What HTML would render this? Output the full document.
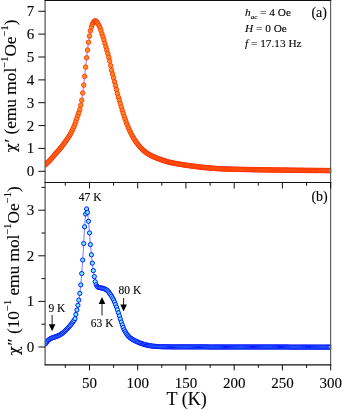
<!DOCTYPE html><html><head><meta charset="utf-8"><title>chi</title><style>html,body{margin:0;padding:0;background:#fff}body{width:342px;height:410px;overflow:hidden;position:relative}</style></head><body><svg width="342" height="410" viewBox="0 0 342 410" style="display:block;position:absolute;left:0;top:0"><rect width="342" height="410" fill="#fff"/><defs><clipPath id="ca"><rect x="45.1" y="0" width="286.1" height="182.5"/></clipPath><clipPath id="cb"><rect x="45.1" y="182.5" width="286.1" height="182.39999999999998"/></clipPath></defs><g clip-path="url(#ca)"><polyline points="45.3,164.8 46.0,164.1 47.0,163.1 48.0,162.2 48.9,161.2 49.9,160.2 50.9,159.2 51.8,158.1 52.8,157.0 53.7,155.9 54.7,154.8 55.7,153.6 56.6,152.5 57.6,151.5 58.6,150.4 59.5,149.3 60.5,148.1 61.5,146.9 62.4,145.7 63.4,144.4 64.4,143.1 65.3,141.8 66.3,140.4 67.3,139.0 68.2,137.6 69.2,136.1 70.2,134.5 71.1,132.7 72.1,130.8 73.0,128.7 74.0,126.4 75.0,123.9 75.9,121.3 76.9,118.3 77.9,115.3 78.8,112.6 79.8,109.5 80.8,105.2 81.7,100.3 82.7,93.0 83.7,85.1 84.6,76.4 85.6,67.1 86.6,57.8 87.5,50.0 88.5,42.3 89.5,36.1 90.4,30.9 91.4,27.1 92.3,24.4 93.3,22.6 94.3,21.3 95.2,20.8 96.2,21.3 97.2,22.4 98.1,23.9 99.1,25.8 100.1,27.9 101.0,30.6 102.0,33.9 103.0,36.8 103.9,39.8 104.9,43.3 105.9,46.8 106.8,50.1 107.8,53.6 108.8,57.2 109.7,61.1 110.7,65.7 111.6,70.3 112.6,74.2 113.6,77.9 114.5,81.8 115.5,85.6 116.5,89.5 117.4,93.5 118.4,97.2 119.4,100.4 120.3,103.6 121.3,107.0 122.3,110.4 123.2,113.5 124.2,116.5 125.2,119.3 126.1,122.0 127.1,124.5 128.1,126.9 129.0,129.2 130.0,131.3 130.9,133.3 131.9,135.2 132.9,136.9 133.8,138.6 134.8,140.1 135.8,141.6 136.7,142.9 137.7,144.2 138.7,145.4 139.6,146.5 140.6,147.6 141.6,148.6 142.5,149.6 143.5,150.5 144.5,151.3 145.4,152.0 146.4,152.7 147.3,153.4 148.3,154.0 149.3,154.6 150.2,155.1 151.2,155.7 152.2,156.1 153.1,156.6 154.1,157.0 155.1,157.4 156.0,157.8 157.0,158.2 158.0,158.6 158.9,158.9 159.9,159.2 160.9,159.6 161.8,159.9 162.8,160.3 163.8,160.6 164.7,160.9 165.7,161.2 166.7,161.5 167.6,161.8 168.6,162.0 169.5,162.3 170.5,162.5 171.5,162.7 172.4,162.9 173.4,163.1 174.4,163.3 175.3,163.5 176.3,163.6 177.3,163.8 178.2,164.0 179.2,164.1 180.2,164.3 181.1,164.4 182.1,164.6 183.1,164.8 184.0,164.9 185.0,165.1 185.9,165.2 186.9,165.3 187.9,165.5 188.8,165.6 189.8,165.8 190.8,165.9 191.7,166.0 192.7,166.1 193.7,166.3 194.6,166.4 195.6,166.5 196.6,166.6 197.5,166.7 198.5,166.9 199.5,167.0 200.4,167.1 201.4,167.2 202.4,167.3 203.3,167.4 204.3,167.5 205.2,167.6 206.2,167.7 207.2,167.8 208.1,167.8 209.1,167.9 210.1,168.0 211.0,168.1 212.0,168.2 213.0,168.3 213.9,168.3 214.9,168.4 215.9,168.5 216.8,168.6 217.8,168.6 218.8,168.7 219.7,168.7 220.7,168.8 221.7,168.8 222.6,168.8 223.6,168.9 224.6,168.9 225.5,169.0 226.5,169.0 227.4,169.0 228.4,169.1 229.4,169.1 230.3,169.1 231.3,169.1 232.3,169.2 233.2,169.2 234.2,169.2 235.2,169.3 236.1,169.3 237.1,169.3 238.1,169.3 239.0,169.4 240.0,169.4 241.0,169.4 241.9,169.4 242.9,169.5 243.9,169.5 244.8,169.5 245.8,169.5 246.7,169.5 247.7,169.6 248.7,169.6 249.6,169.6 250.6,169.6 251.6,169.6 252.5,169.6 253.5,169.7 254.5,169.7 255.4,169.7 256.4,169.7 257.4,169.7 258.3,169.8 259.3,169.8 260.3,169.8 261.2,169.8 262.2,169.8 263.1,169.8 264.1,169.8 265.1,169.9 266.0,169.9 267.0,169.9 268.0,169.9 268.9,169.9 269.9,169.9 270.9,169.9 271.8,170.0 272.8,170.0 273.8,170.0 274.7,170.0 275.7,170.0 276.7,170.0 277.6,170.0 278.6,170.0 279.6,170.1 280.5,170.1 281.5,170.1 282.4,170.1 283.4,170.1 284.4,170.1 285.3,170.1 286.3,170.1 287.3,170.2 288.2,170.2 289.2,170.2 290.2,170.2 291.1,170.2 292.1,170.2 293.1,170.2 294.0,170.2 295.0,170.2 296.0,170.3 296.9,170.3 297.9,170.3 298.9,170.3 299.8,170.3 300.8,170.3 301.8,170.3 302.7,170.3 303.7,170.3 304.6,170.4 305.6,170.4 306.6,170.4 307.5,170.4 308.5,170.4 309.5,170.4 310.4,170.4 311.4,170.4 312.4,170.4 313.3,170.4 314.3,170.5 315.3,170.5 316.2,170.5 317.2,170.5 318.2,170.5 319.1,170.5 320.1,170.5 321.0,170.5 322.0,170.5 323.0,170.5 323.9,170.5 324.9,170.5 325.9,170.6 326.8,170.6 327.8,170.6 328.8,170.6 329.7,170.6 330.7,170.6" fill="none" stroke="#7a30ff" stroke-width="0.7"/><g fill="#ff9020" stroke="#ff2200" stroke-width="0.75"><circle cx="45.3" cy="164.8" r="2.28"/><circle cx="46.0" cy="164.1" r="2.28"/><circle cx="47.0" cy="163.1" r="2.28"/><circle cx="48.0" cy="162.2" r="2.28"/><circle cx="48.9" cy="161.2" r="2.28"/><circle cx="49.9" cy="160.2" r="2.28"/><circle cx="50.9" cy="159.2" r="2.28"/><circle cx="51.8" cy="158.1" r="2.28"/><circle cx="52.8" cy="157.0" r="2.28"/><circle cx="53.7" cy="155.9" r="2.28"/><circle cx="54.7" cy="154.8" r="2.28"/><circle cx="55.7" cy="153.6" r="2.28"/><circle cx="56.6" cy="152.5" r="2.28"/><circle cx="57.6" cy="151.5" r="2.28"/><circle cx="58.6" cy="150.4" r="2.28"/><circle cx="59.5" cy="149.3" r="2.28"/><circle cx="60.5" cy="148.1" r="2.28"/><circle cx="61.5" cy="146.9" r="2.28"/><circle cx="62.4" cy="145.7" r="2.28"/><circle cx="63.4" cy="144.4" r="2.28"/><circle cx="64.4" cy="143.1" r="2.28"/><circle cx="65.3" cy="141.8" r="2.28"/><circle cx="66.3" cy="140.4" r="2.28"/><circle cx="67.3" cy="139.0" r="2.28"/><circle cx="68.2" cy="137.6" r="2.28"/><circle cx="69.2" cy="136.1" r="2.28"/><circle cx="70.2" cy="134.5" r="2.28"/><circle cx="71.1" cy="132.7" r="2.28"/><circle cx="72.1" cy="130.8" r="2.28"/><circle cx="73.0" cy="128.7" r="2.28"/><circle cx="74.0" cy="126.4" r="2.28"/><circle cx="75.0" cy="123.9" r="2.28"/><circle cx="75.9" cy="121.3" r="2.28"/><circle cx="76.9" cy="118.3" r="2.28"/><circle cx="77.9" cy="115.3" r="2.28"/><circle cx="78.8" cy="112.6" r="2.28"/><circle cx="79.8" cy="109.5" r="2.28"/><circle cx="80.8" cy="105.2" r="2.28"/><circle cx="81.7" cy="100.3" r="2.28"/><circle cx="82.7" cy="93.0" r="2.28"/><circle cx="83.7" cy="85.1" r="2.28"/><circle cx="84.6" cy="76.4" r="2.28"/><circle cx="85.6" cy="67.1" r="2.28"/><circle cx="86.6" cy="57.8" r="2.28"/><circle cx="87.5" cy="50.0" r="2.28"/><circle cx="88.5" cy="42.3" r="2.28"/><circle cx="89.5" cy="36.1" r="2.28"/><circle cx="90.4" cy="30.9" r="2.28"/><circle cx="91.4" cy="27.1" r="2.28"/><circle cx="92.3" cy="24.4" r="2.28"/><circle cx="93.3" cy="22.6" r="2.28"/><circle cx="94.3" cy="21.3" r="2.28"/><circle cx="95.2" cy="20.8" r="2.28"/><circle cx="96.2" cy="21.3" r="2.28"/><circle cx="97.2" cy="22.4" r="2.28"/><circle cx="98.1" cy="23.9" r="2.28"/><circle cx="99.1" cy="25.8" r="2.28"/><circle cx="100.1" cy="27.9" r="2.28"/><circle cx="101.0" cy="30.6" r="2.28"/><circle cx="102.0" cy="33.9" r="2.28"/><circle cx="103.0" cy="36.8" r="2.28"/><circle cx="103.9" cy="39.8" r="2.28"/><circle cx="104.9" cy="43.3" r="2.28"/><circle cx="105.9" cy="46.8" r="2.28"/><circle cx="106.8" cy="50.1" r="2.28"/><circle cx="107.8" cy="53.6" r="2.28"/><circle cx="108.8" cy="57.2" r="2.28"/><circle cx="109.7" cy="61.1" r="2.28"/><circle cx="110.7" cy="65.7" r="2.28"/><circle cx="111.6" cy="70.3" r="2.28"/><circle cx="112.6" cy="74.2" r="2.28"/><circle cx="113.6" cy="77.9" r="2.28"/><circle cx="114.5" cy="81.8" r="2.28"/><circle cx="115.5" cy="85.6" r="2.28"/><circle cx="116.5" cy="89.5" r="2.28"/><circle cx="117.4" cy="93.5" r="2.28"/><circle cx="118.4" cy="97.2" r="2.28"/><circle cx="119.4" cy="100.4" r="2.28"/><circle cx="120.3" cy="103.6" r="2.28"/><circle cx="121.3" cy="107.0" r="2.28"/><circle cx="122.3" cy="110.4" r="2.28"/><circle cx="123.2" cy="113.5" r="2.28"/><circle cx="124.2" cy="116.5" r="2.28"/><circle cx="125.2" cy="119.3" r="2.28"/><circle cx="126.1" cy="122.0" r="2.28"/><circle cx="127.1" cy="124.5" r="2.28"/><circle cx="128.1" cy="126.9" r="2.28"/><circle cx="129.0" cy="129.2" r="2.28"/><circle cx="130.0" cy="131.3" r="2.28"/><circle cx="130.9" cy="133.3" r="2.28"/><circle cx="131.9" cy="135.2" r="2.28"/><circle cx="132.9" cy="136.9" r="2.28"/><circle cx="133.8" cy="138.6" r="2.28"/><circle cx="134.8" cy="140.1" r="2.28"/><circle cx="135.8" cy="141.6" r="2.28"/><circle cx="136.7" cy="142.9" r="2.28"/><circle cx="137.7" cy="144.2" r="2.28"/><circle cx="138.7" cy="145.4" r="2.28"/><circle cx="139.6" cy="146.5" r="2.28"/><circle cx="140.6" cy="147.6" r="2.28"/><circle cx="141.6" cy="148.6" r="2.28"/><circle cx="142.5" cy="149.6" r="2.28"/><circle cx="143.5" cy="150.5" r="2.28"/><circle cx="144.5" cy="151.3" r="2.28"/><circle cx="145.4" cy="152.0" r="2.28"/><circle cx="146.4" cy="152.7" r="2.28"/><circle cx="147.3" cy="153.4" r="2.28"/><circle cx="148.3" cy="154.0" r="2.28"/><circle cx="149.3" cy="154.6" r="2.28"/><circle cx="150.2" cy="155.1" r="2.28"/><circle cx="151.2" cy="155.7" r="2.28"/><circle cx="152.2" cy="156.1" r="2.28"/><circle cx="153.1" cy="156.6" r="2.28"/><circle cx="154.1" cy="157.0" r="2.28"/><circle cx="155.1" cy="157.4" r="2.28"/><circle cx="156.0" cy="157.8" r="2.28"/><circle cx="157.0" cy="158.2" r="2.28"/><circle cx="158.0" cy="158.6" r="2.28"/><circle cx="158.9" cy="158.9" r="2.28"/><circle cx="159.9" cy="159.2" r="2.28"/><circle cx="160.9" cy="159.6" r="2.28"/><circle cx="161.8" cy="159.9" r="2.28"/><circle cx="162.8" cy="160.3" r="2.28"/><circle cx="163.8" cy="160.6" r="2.28"/><circle cx="164.7" cy="160.9" r="2.28"/><circle cx="165.7" cy="161.2" r="2.28"/><circle cx="166.7" cy="161.5" r="2.28"/><circle cx="167.6" cy="161.8" r="2.28"/><circle cx="168.6" cy="162.0" r="2.28"/><circle cx="169.5" cy="162.3" r="2.28"/><circle cx="170.5" cy="162.5" r="2.28"/><circle cx="171.5" cy="162.7" r="2.28"/><circle cx="172.4" cy="162.9" r="2.28"/><circle cx="173.4" cy="163.1" r="2.28"/><circle cx="174.4" cy="163.3" r="2.28"/><circle cx="175.3" cy="163.5" r="2.28"/><circle cx="176.3" cy="163.6" r="2.28"/><circle cx="177.3" cy="163.8" r="2.28"/><circle cx="178.2" cy="164.0" r="2.28"/><circle cx="179.2" cy="164.1" r="2.28"/><circle cx="180.2" cy="164.3" r="2.28"/><circle cx="181.1" cy="164.4" r="2.28"/><circle cx="182.1" cy="164.6" r="2.28"/><circle cx="183.1" cy="164.8" r="2.28"/><circle cx="184.0" cy="164.9" r="2.28"/><circle cx="185.0" cy="165.1" r="2.28"/><circle cx="185.9" cy="165.2" r="2.28"/><circle cx="186.9" cy="165.3" r="2.28"/><circle cx="187.9" cy="165.5" r="2.28"/><circle cx="188.8" cy="165.6" r="2.28"/><circle cx="189.8" cy="165.8" r="2.28"/><circle cx="190.8" cy="165.9" r="2.28"/><circle cx="191.7" cy="166.0" r="2.28"/><circle cx="192.7" cy="166.1" r="2.28"/><circle cx="193.7" cy="166.3" r="2.28"/><circle cx="194.6" cy="166.4" r="2.28"/><circle cx="195.6" cy="166.5" r="2.28"/><circle cx="196.6" cy="166.6" r="2.28"/><circle cx="197.5" cy="166.7" r="2.28"/><circle cx="198.5" cy="166.9" r="2.28"/><circle cx="199.5" cy="167.0" r="2.28"/><circle cx="200.4" cy="167.1" r="2.28"/><circle cx="201.4" cy="167.2" r="2.28"/><circle cx="202.4" cy="167.3" r="2.28"/><circle cx="203.3" cy="167.4" r="2.28"/><circle cx="204.3" cy="167.5" r="2.28"/><circle cx="205.2" cy="167.6" r="2.28"/><circle cx="206.2" cy="167.7" r="2.28"/><circle cx="207.2" cy="167.8" r="2.28"/><circle cx="208.1" cy="167.8" r="2.28"/><circle cx="209.1" cy="167.9" r="2.28"/><circle cx="210.1" cy="168.0" r="2.28"/><circle cx="211.0" cy="168.1" r="2.28"/><circle cx="212.0" cy="168.2" r="2.28"/><circle cx="213.0" cy="168.3" r="2.28"/><circle cx="213.9" cy="168.3" r="2.28"/><circle cx="214.9" cy="168.4" r="2.28"/><circle cx="215.9" cy="168.5" r="2.28"/><circle cx="216.8" cy="168.6" r="2.28"/><circle cx="217.8" cy="168.6" r="2.28"/><circle cx="218.8" cy="168.7" r="2.28"/><circle cx="219.7" cy="168.7" r="2.28"/><circle cx="220.7" cy="168.8" r="2.28"/><circle cx="221.7" cy="168.8" r="2.28"/><circle cx="222.6" cy="168.8" r="2.28"/><circle cx="223.6" cy="168.9" r="2.28"/><circle cx="224.6" cy="168.9" r="2.28"/><circle cx="225.5" cy="169.0" r="2.28"/><circle cx="226.5" cy="169.0" r="2.28"/><circle cx="227.4" cy="169.0" r="2.28"/><circle cx="228.4" cy="169.1" r="2.28"/><circle cx="229.4" cy="169.1" r="2.28"/><circle cx="230.3" cy="169.1" r="2.28"/><circle cx="231.3" cy="169.1" r="2.28"/><circle cx="232.3" cy="169.2" r="2.28"/><circle cx="233.2" cy="169.2" r="2.28"/><circle cx="234.2" cy="169.2" r="2.28"/><circle cx="235.2" cy="169.3" r="2.28"/><circle cx="236.1" cy="169.3" r="2.28"/><circle cx="237.1" cy="169.3" r="2.28"/><circle cx="238.1" cy="169.3" r="2.28"/><circle cx="239.0" cy="169.4" r="2.28"/><circle cx="240.0" cy="169.4" r="2.28"/><circle cx="241.0" cy="169.4" r="2.28"/><circle cx="241.9" cy="169.4" r="2.28"/><circle cx="242.9" cy="169.5" r="2.28"/><circle cx="243.9" cy="169.5" r="2.28"/><circle cx="244.8" cy="169.5" r="2.28"/><circle cx="245.8" cy="169.5" r="2.28"/><circle cx="246.7" cy="169.5" r="2.28"/><circle cx="247.7" cy="169.6" r="2.28"/><circle cx="248.7" cy="169.6" r="2.28"/><circle cx="249.6" cy="169.6" r="2.28"/><circle cx="250.6" cy="169.6" r="2.28"/><circle cx="251.6" cy="169.6" r="2.28"/><circle cx="252.5" cy="169.6" r="2.28"/><circle cx="253.5" cy="169.7" r="2.28"/><circle cx="254.5" cy="169.7" r="2.28"/><circle cx="255.4" cy="169.7" r="2.28"/><circle cx="256.4" cy="169.7" r="2.28"/><circle cx="257.4" cy="169.7" r="2.28"/><circle cx="258.3" cy="169.8" r="2.28"/><circle cx="259.3" cy="169.8" r="2.28"/><circle cx="260.3" cy="169.8" r="2.28"/><circle cx="261.2" cy="169.8" r="2.28"/><circle cx="262.2" cy="169.8" r="2.28"/><circle cx="263.1" cy="169.8" r="2.28"/><circle cx="264.1" cy="169.8" r="2.28"/><circle cx="265.1" cy="169.9" r="2.28"/><circle cx="266.0" cy="169.9" r="2.28"/><circle cx="267.0" cy="169.9" r="2.28"/><circle cx="268.0" cy="169.9" r="2.28"/><circle cx="268.9" cy="169.9" r="2.28"/><circle cx="269.9" cy="169.9" r="2.28"/><circle cx="270.9" cy="169.9" r="2.28"/><circle cx="271.8" cy="170.0" r="2.28"/><circle cx="272.8" cy="170.0" r="2.28"/><circle cx="273.8" cy="170.0" r="2.28"/><circle cx="274.7" cy="170.0" r="2.28"/><circle cx="275.7" cy="170.0" r="2.28"/><circle cx="276.7" cy="170.0" r="2.28"/><circle cx="277.6" cy="170.0" r="2.28"/><circle cx="278.6" cy="170.0" r="2.28"/><circle cx="279.6" cy="170.1" r="2.28"/><circle cx="280.5" cy="170.1" r="2.28"/><circle cx="281.5" cy="170.1" r="2.28"/><circle cx="282.4" cy="170.1" r="2.28"/><circle cx="283.4" cy="170.1" r="2.28"/><circle cx="284.4" cy="170.1" r="2.28"/><circle cx="285.3" cy="170.1" r="2.28"/><circle cx="286.3" cy="170.1" r="2.28"/><circle cx="287.3" cy="170.2" r="2.28"/><circle cx="288.2" cy="170.2" r="2.28"/><circle cx="289.2" cy="170.2" r="2.28"/><circle cx="290.2" cy="170.2" r="2.28"/><circle cx="291.1" cy="170.2" r="2.28"/><circle cx="292.1" cy="170.2" r="2.28"/><circle cx="293.1" cy="170.2" r="2.28"/><circle cx="294.0" cy="170.2" r="2.28"/><circle cx="295.0" cy="170.2" r="2.28"/><circle cx="296.0" cy="170.3" r="2.28"/><circle cx="296.9" cy="170.3" r="2.28"/><circle cx="297.9" cy="170.3" r="2.28"/><circle cx="298.9" cy="170.3" r="2.28"/><circle cx="299.8" cy="170.3" r="2.28"/><circle cx="300.8" cy="170.3" r="2.28"/><circle cx="301.8" cy="170.3" r="2.28"/><circle cx="302.7" cy="170.3" r="2.28"/><circle cx="303.7" cy="170.3" r="2.28"/><circle cx="304.6" cy="170.4" r="2.28"/><circle cx="305.6" cy="170.4" r="2.28"/><circle cx="306.6" cy="170.4" r="2.28"/><circle cx="307.5" cy="170.4" r="2.28"/><circle cx="308.5" cy="170.4" r="2.28"/><circle cx="309.5" cy="170.4" r="2.28"/><circle cx="310.4" cy="170.4" r="2.28"/><circle cx="311.4" cy="170.4" r="2.28"/><circle cx="312.4" cy="170.4" r="2.28"/><circle cx="313.3" cy="170.4" r="2.28"/><circle cx="314.3" cy="170.5" r="2.28"/><circle cx="315.3" cy="170.5" r="2.28"/><circle cx="316.2" cy="170.5" r="2.28"/><circle cx="317.2" cy="170.5" r="2.28"/><circle cx="318.2" cy="170.5" r="2.28"/><circle cx="319.1" cy="170.5" r="2.28"/><circle cx="320.1" cy="170.5" r="2.28"/><circle cx="321.0" cy="170.5" r="2.28"/><circle cx="322.0" cy="170.5" r="2.28"/><circle cx="323.0" cy="170.5" r="2.28"/><circle cx="323.9" cy="170.5" r="2.28"/><circle cx="324.9" cy="170.5" r="2.28"/><circle cx="325.9" cy="170.6" r="2.28"/><circle cx="326.8" cy="170.6" r="2.28"/><circle cx="327.8" cy="170.6" r="2.28"/><circle cx="328.8" cy="170.6" r="2.28"/><circle cx="329.7" cy="170.6" r="2.28"/><circle cx="330.7" cy="170.6" r="2.28"/></g></g><g clip-path="url(#cb)"><polyline points="45.3,343.9 46.0,343.1 47.0,341.8 48.0,340.5 48.9,339.7 49.9,339.0 50.9,338.4 51.8,338.0 52.8,337.6 53.7,337.3 54.7,337.1 55.7,336.7 56.6,336.4 57.6,336.0 58.6,335.6 59.5,335.1 60.5,334.5 61.5,333.9 62.4,333.2 63.4,332.5 64.4,331.6 65.3,330.7 66.3,329.7 67.3,328.7 68.2,327.7 69.2,326.6 70.2,325.5 71.1,324.3 72.1,323.1 73.0,321.8 74.0,320.4 75.0,318.7 75.9,314.5 76.9,310.0 77.9,305.3 78.8,300.1 79.8,293.4 80.8,284.9 81.7,273.5 82.7,260.0 83.7,243.5 84.6,226.8 85.6,214.0 86.6,208.9 87.5,212.4 88.5,221.3 89.5,232.9 90.4,244.6 91.4,254.8 92.3,263.1 93.3,270.6 94.3,276.6 95.2,281.7 96.2,284.8 97.2,286.5 98.1,287.3 99.1,287.6 100.1,287.7 101.0,287.9 102.0,288.1 103.0,288.3 103.9,288.6 104.9,289.0 105.9,289.5 106.8,290.1 107.8,290.9 108.8,292.1 109.7,293.5 110.7,294.8 111.6,296.3 112.6,298.0 113.6,299.9 114.5,302.0 115.5,304.5 116.5,307.0 117.4,309.8 118.4,312.8 119.4,315.8 120.3,319.0 121.3,322.1 122.3,324.9 123.2,327.5 124.2,329.8 125.2,331.6 126.1,333.2 127.1,334.6 128.1,335.8 129.0,336.8 130.0,337.7 130.9,338.4 131.9,339.0 132.9,339.6 133.8,340.2 134.8,340.7 135.8,341.1 136.7,341.6 137.7,342.0 138.7,342.5 139.6,342.9 140.6,343.2 141.6,343.6 142.5,343.9 143.5,344.2 144.5,344.5 145.4,344.7 146.4,345.0 147.3,345.2 148.3,345.4 149.3,345.6 150.2,345.8 151.2,345.9 152.2,346.1 153.1,346.2 154.1,346.2 155.1,346.3 156.0,346.4 157.0,346.5 158.0,346.5 158.9,346.6 159.9,346.7 160.9,346.7 161.8,346.7 162.8,346.8 163.8,346.8 164.7,346.8 165.7,346.8 166.7,346.8 167.6,346.8 168.6,346.8 169.5,346.8 170.5,346.9 171.5,346.9 172.4,346.9 173.4,346.9 174.4,346.9 175.3,346.9 176.3,346.9 177.3,346.9 178.2,346.9 179.2,346.9 180.2,346.9 181.1,346.9 182.1,346.9 183.1,346.9 184.0,346.9 185.0,346.9 185.9,346.9 186.9,346.9 187.9,346.9 188.8,346.9 189.8,346.9 190.8,346.9 191.7,346.9 192.7,346.9 193.7,346.9 194.6,346.9 195.6,346.9 196.6,346.9 197.5,346.9 198.5,346.9 199.5,346.9 200.4,346.9 201.4,346.9 202.4,346.9 203.3,346.9 204.3,346.9 205.2,346.9 206.2,346.9 207.2,346.9 208.1,347.0 209.1,347.0 210.1,347.0 211.0,347.0 212.0,347.0 213.0,347.0 213.9,347.0 214.9,347.0 215.9,347.0 216.8,347.0 217.8,347.0 218.8,347.0 219.7,347.0 220.7,347.0 221.7,347.0 222.6,347.0 223.6,347.0 224.6,347.0 225.5,347.0 226.5,347.0 227.4,347.0 228.4,347.0 229.4,347.0 230.3,347.0 231.3,347.0 232.3,347.0 233.2,347.0 234.2,347.0 235.2,347.0 236.1,347.0 237.1,347.0 238.1,347.0 239.0,347.0 240.0,347.0 241.0,347.0 241.9,347.0 242.9,347.0 243.9,347.0 244.8,347.0 245.8,347.0 246.7,347.0 247.7,347.0 248.7,347.0 249.6,347.0 250.6,347.0 251.6,347.0 252.5,347.0 253.5,347.0 254.5,347.0 255.4,347.0 256.4,347.0 257.4,347.0 258.3,347.0 259.3,347.0 260.3,347.0 261.2,347.0 262.2,347.0 263.1,347.0 264.1,347.0 265.1,347.0 266.0,347.0 267.0,347.0 268.0,347.0 268.9,347.0 269.9,347.0 270.9,347.0 271.8,347.0 272.8,347.0 273.8,347.0 274.7,347.0 275.7,347.0 276.7,347.0 277.6,347.0 278.6,347.0 279.6,347.0 280.5,347.0 281.5,347.0 282.4,347.0 283.4,347.0 284.4,347.0 285.3,347.0 286.3,347.0 287.3,347.0 288.2,347.0 289.2,347.1 290.2,347.1 291.1,347.1 292.1,347.1 293.1,347.1 294.0,347.1 295.0,347.1 296.0,347.1 296.9,347.1 297.9,347.1 298.9,347.1 299.8,347.1 300.8,347.1 301.8,347.1 302.7,347.1 303.7,347.1 304.6,347.1 305.6,347.1 306.6,347.1 307.5,347.1 308.5,347.1 309.5,347.1 310.4,347.1 311.4,347.1 312.4,347.1 313.3,347.1 314.3,347.1 315.3,347.1 316.2,347.1 317.2,347.1 318.2,347.1 319.1,347.1 320.1,347.1 321.0,347.1 322.0,347.1 323.0,347.1 323.9,347.1 324.9,347.1 325.9,347.1 326.8,347.1 327.8,347.1 328.8,347.1 329.7,347.1 330.7,347.1" fill="none" stroke="#3a40ff" stroke-width="0.7"/><g fill="#6af4ff" stroke="#0614ff" stroke-width="1"><circle cx="45.3" cy="343.9" r="2.1"/><circle cx="46.0" cy="343.1" r="2.1"/><circle cx="47.0" cy="341.8" r="2.1"/><circle cx="48.0" cy="340.5" r="2.1"/><circle cx="48.9" cy="339.7" r="2.1"/><circle cx="49.9" cy="339.0" r="2.1"/><circle cx="50.9" cy="338.4" r="2.1"/><circle cx="51.8" cy="338.0" r="2.1"/><circle cx="52.8" cy="337.6" r="2.1"/><circle cx="53.7" cy="337.3" r="2.1"/><circle cx="54.7" cy="337.1" r="2.1"/><circle cx="55.7" cy="336.7" r="2.1"/><circle cx="56.6" cy="336.4" r="2.1"/><circle cx="57.6" cy="336.0" r="2.1"/><circle cx="58.6" cy="335.6" r="2.1"/><circle cx="59.5" cy="335.1" r="2.1"/><circle cx="60.5" cy="334.5" r="2.1"/><circle cx="61.5" cy="333.9" r="2.1"/><circle cx="62.4" cy="333.2" r="2.1"/><circle cx="63.4" cy="332.5" r="2.1"/><circle cx="64.4" cy="331.6" r="2.1"/><circle cx="65.3" cy="330.7" r="2.1"/><circle cx="66.3" cy="329.7" r="2.1"/><circle cx="67.3" cy="328.7" r="2.1"/><circle cx="68.2" cy="327.7" r="2.1"/><circle cx="69.2" cy="326.6" r="2.1"/><circle cx="70.2" cy="325.5" r="2.1"/><circle cx="71.1" cy="324.3" r="2.1"/><circle cx="72.1" cy="323.1" r="2.1"/><circle cx="73.0" cy="321.8" r="2.1"/><circle cx="74.0" cy="320.4" r="2.1"/><circle cx="75.0" cy="318.7" r="2.1"/><circle cx="75.9" cy="314.5" r="2.1"/><circle cx="76.9" cy="310.0" r="2.1"/><circle cx="77.9" cy="305.3" r="2.1"/><circle cx="78.8" cy="300.1" r="2.1"/><circle cx="79.8" cy="293.4" r="2.1"/><circle cx="80.8" cy="284.9" r="2.1"/><circle cx="81.7" cy="273.5" r="2.1"/><circle cx="82.7" cy="260.0" r="2.1"/><circle cx="83.7" cy="243.5" r="2.1"/><circle cx="84.6" cy="226.8" r="2.1"/><circle cx="85.6" cy="214.0" r="2.1"/><circle cx="86.6" cy="208.9" r="2.1"/><circle cx="87.5" cy="212.4" r="2.1"/><circle cx="88.5" cy="221.3" r="2.1"/><circle cx="89.5" cy="232.9" r="2.1"/><circle cx="90.4" cy="244.6" r="2.1"/><circle cx="91.4" cy="254.8" r="2.1"/><circle cx="92.3" cy="263.1" r="2.1"/><circle cx="93.3" cy="270.6" r="2.1"/><circle cx="94.3" cy="276.6" r="2.1"/><circle cx="95.2" cy="281.7" r="2.1"/><circle cx="96.2" cy="284.8" r="2.1"/><circle cx="97.2" cy="286.5" r="2.1"/><circle cx="98.1" cy="287.3" r="2.1"/><circle cx="99.1" cy="287.6" r="2.1"/><circle cx="100.1" cy="287.7" r="2.1"/><circle cx="101.0" cy="287.9" r="2.1"/><circle cx="102.0" cy="288.1" r="2.1"/><circle cx="103.0" cy="288.3" r="2.1"/><circle cx="103.9" cy="288.6" r="2.1"/><circle cx="104.9" cy="289.0" r="2.1"/><circle cx="105.9" cy="289.5" r="2.1"/><circle cx="106.8" cy="290.1" r="2.1"/><circle cx="107.8" cy="290.9" r="2.1"/><circle cx="108.8" cy="292.1" r="2.1"/><circle cx="109.7" cy="293.5" r="2.1"/><circle cx="110.7" cy="294.8" r="2.1"/><circle cx="111.6" cy="296.3" r="2.1"/><circle cx="112.6" cy="298.0" r="2.1"/><circle cx="113.6" cy="299.9" r="2.1"/><circle cx="114.5" cy="302.0" r="2.1"/><circle cx="115.5" cy="304.5" r="2.1"/><circle cx="116.5" cy="307.0" r="2.1"/><circle cx="117.4" cy="309.8" r="2.1"/><circle cx="118.4" cy="312.8" r="2.1"/><circle cx="119.4" cy="315.8" r="2.1"/><circle cx="120.3" cy="319.0" r="2.1"/><circle cx="121.3" cy="322.1" r="2.1"/><circle cx="122.3" cy="324.9" r="2.1"/><circle cx="123.2" cy="327.5" r="2.1"/><circle cx="124.2" cy="329.8" r="2.1"/><circle cx="125.2" cy="331.6" r="2.1"/><circle cx="126.1" cy="333.2" r="2.1"/><circle cx="127.1" cy="334.6" r="2.1"/><circle cx="128.1" cy="335.8" r="2.1"/><circle cx="129.0" cy="336.8" r="2.1"/><circle cx="130.0" cy="337.7" r="2.1"/><circle cx="130.9" cy="338.4" r="2.1"/><circle cx="131.9" cy="339.0" r="2.1"/><circle cx="132.9" cy="339.6" r="2.1"/><circle cx="133.8" cy="340.2" r="2.1"/><circle cx="134.8" cy="340.7" r="2.1"/><circle cx="135.8" cy="341.1" r="2.1"/><circle cx="136.7" cy="341.6" r="2.1"/><circle cx="137.7" cy="342.0" r="2.1"/><circle cx="138.7" cy="342.5" r="2.1"/><circle cx="139.6" cy="342.9" r="2.1"/><circle cx="140.6" cy="343.2" r="2.1"/><circle cx="141.6" cy="343.6" r="2.1"/><circle cx="142.5" cy="343.9" r="2.1"/><circle cx="143.5" cy="344.2" r="2.1"/><circle cx="144.5" cy="344.5" r="2.1"/><circle cx="145.4" cy="344.7" r="2.1"/><circle cx="146.4" cy="345.0" r="2.1"/><circle cx="147.3" cy="345.2" r="2.1"/><circle cx="148.3" cy="345.4" r="2.1"/><circle cx="149.3" cy="345.6" r="2.1"/><circle cx="150.2" cy="345.8" r="2.1"/><circle cx="151.2" cy="345.9" r="2.1"/><circle cx="152.2" cy="346.1" r="2.1"/><circle cx="153.1" cy="346.2" r="2.1"/><circle cx="154.1" cy="346.2" r="2.1"/><circle cx="155.1" cy="346.3" r="2.1"/><circle cx="156.0" cy="346.4" r="2.1"/><circle cx="157.0" cy="346.5" r="2.1"/><circle cx="158.0" cy="346.5" r="2.1"/><circle cx="158.9" cy="346.6" r="2.1"/><circle cx="159.9" cy="346.7" r="2.1"/><circle cx="160.9" cy="346.7" r="2.1"/><circle cx="161.8" cy="346.7" r="2.1"/><circle cx="162.8" cy="346.8" r="2.1"/><circle cx="163.8" cy="346.8" r="2.1"/><circle cx="164.7" cy="346.8" r="2.1"/><circle cx="165.7" cy="346.8" r="2.1"/><circle cx="166.7" cy="346.8" r="2.1"/><circle cx="167.6" cy="346.8" r="2.1"/><circle cx="168.6" cy="346.8" r="2.1"/><circle cx="169.5" cy="346.8" r="2.1"/><circle cx="170.5" cy="346.9" r="2.1"/><circle cx="171.5" cy="346.9" r="2.1"/><circle cx="172.4" cy="346.9" r="2.1"/><circle cx="173.4" cy="346.9" r="2.1"/><circle cx="174.4" cy="346.9" r="2.1"/><circle cx="175.3" cy="346.9" r="2.1"/><circle cx="176.3" cy="346.9" r="2.1"/><circle cx="177.3" cy="346.9" r="2.1"/><circle cx="178.2" cy="346.9" r="2.1"/><circle cx="179.2" cy="346.9" r="2.1"/><circle cx="180.2" cy="346.9" r="2.1"/><circle cx="181.1" cy="346.9" r="2.1"/><circle cx="182.1" cy="346.9" r="2.1"/><circle cx="183.1" cy="346.9" r="2.1"/><circle cx="184.0" cy="346.9" r="2.1"/><circle cx="185.0" cy="346.9" r="2.1"/><circle cx="185.9" cy="346.9" r="2.1"/><circle cx="186.9" cy="346.9" r="2.1"/><circle cx="187.9" cy="346.9" r="2.1"/><circle cx="188.8" cy="346.9" r="2.1"/><circle cx="189.8" cy="346.9" r="2.1"/><circle cx="190.8" cy="346.9" r="2.1"/><circle cx="191.7" cy="346.9" r="2.1"/><circle cx="192.7" cy="346.9" r="2.1"/><circle cx="193.7" cy="346.9" r="2.1"/><circle cx="194.6" cy="346.9" r="2.1"/><circle cx="195.6" cy="346.9" r="2.1"/><circle cx="196.6" cy="346.9" r="2.1"/><circle cx="197.5" cy="346.9" r="2.1"/><circle cx="198.5" cy="346.9" r="2.1"/><circle cx="199.5" cy="346.9" r="2.1"/><circle cx="200.4" cy="346.9" r="2.1"/><circle cx="201.4" cy="346.9" r="2.1"/><circle cx="202.4" cy="346.9" r="2.1"/><circle cx="203.3" cy="346.9" r="2.1"/><circle cx="204.3" cy="346.9" r="2.1"/><circle cx="205.2" cy="346.9" r="2.1"/><circle cx="206.2" cy="346.9" r="2.1"/><circle cx="207.2" cy="346.9" r="2.1"/><circle cx="208.1" cy="347.0" r="2.1"/><circle cx="209.1" cy="347.0" r="2.1"/><circle cx="210.1" cy="347.0" r="2.1"/><circle cx="211.0" cy="347.0" r="2.1"/><circle cx="212.0" cy="347.0" r="2.1"/><circle cx="213.0" cy="347.0" r="2.1"/><circle cx="213.9" cy="347.0" r="2.1"/><circle cx="214.9" cy="347.0" r="2.1"/><circle cx="215.9" cy="347.0" r="2.1"/><circle cx="216.8" cy="347.0" r="2.1"/><circle cx="217.8" cy="347.0" r="2.1"/><circle cx="218.8" cy="347.0" r="2.1"/><circle cx="219.7" cy="347.0" r="2.1"/><circle cx="220.7" cy="347.0" r="2.1"/><circle cx="221.7" cy="347.0" r="2.1"/><circle cx="222.6" cy="347.0" r="2.1"/><circle cx="223.6" cy="347.0" r="2.1"/><circle cx="224.6" cy="347.0" r="2.1"/><circle cx="225.5" cy="347.0" r="2.1"/><circle cx="226.5" cy="347.0" r="2.1"/><circle cx="227.4" cy="347.0" r="2.1"/><circle cx="228.4" cy="347.0" r="2.1"/><circle cx="229.4" cy="347.0" r="2.1"/><circle cx="230.3" cy="347.0" r="2.1"/><circle cx="231.3" cy="347.0" r="2.1"/><circle cx="232.3" cy="347.0" r="2.1"/><circle cx="233.2" cy="347.0" r="2.1"/><circle cx="234.2" cy="347.0" r="2.1"/><circle cx="235.2" cy="347.0" r="2.1"/><circle cx="236.1" cy="347.0" r="2.1"/><circle cx="237.1" cy="347.0" r="2.1"/><circle cx="238.1" cy="347.0" r="2.1"/><circle cx="239.0" cy="347.0" r="2.1"/><circle cx="240.0" cy="347.0" r="2.1"/><circle cx="241.0" cy="347.0" r="2.1"/><circle cx="241.9" cy="347.0" r="2.1"/><circle cx="242.9" cy="347.0" r="2.1"/><circle cx="243.9" cy="347.0" r="2.1"/><circle cx="244.8" cy="347.0" r="2.1"/><circle cx="245.8" cy="347.0" r="2.1"/><circle cx="246.7" cy="347.0" r="2.1"/><circle cx="247.7" cy="347.0" r="2.1"/><circle cx="248.7" cy="347.0" r="2.1"/><circle cx="249.6" cy="347.0" r="2.1"/><circle cx="250.6" cy="347.0" r="2.1"/><circle cx="251.6" cy="347.0" r="2.1"/><circle cx="252.5" cy="347.0" r="2.1"/><circle cx="253.5" cy="347.0" r="2.1"/><circle cx="254.5" cy="347.0" r="2.1"/><circle cx="255.4" cy="347.0" r="2.1"/><circle cx="256.4" cy="347.0" r="2.1"/><circle cx="257.4" cy="347.0" r="2.1"/><circle cx="258.3" cy="347.0" r="2.1"/><circle cx="259.3" cy="347.0" r="2.1"/><circle cx="260.3" cy="347.0" r="2.1"/><circle cx="261.2" cy="347.0" r="2.1"/><circle cx="262.2" cy="347.0" r="2.1"/><circle cx="263.1" cy="347.0" r="2.1"/><circle cx="264.1" cy="347.0" r="2.1"/><circle cx="265.1" cy="347.0" r="2.1"/><circle cx="266.0" cy="347.0" r="2.1"/><circle cx="267.0" cy="347.0" r="2.1"/><circle cx="268.0" cy="347.0" r="2.1"/><circle cx="268.9" cy="347.0" r="2.1"/><circle cx="269.9" cy="347.0" r="2.1"/><circle cx="270.9" cy="347.0" r="2.1"/><circle cx="271.8" cy="347.0" r="2.1"/><circle cx="272.8" cy="347.0" r="2.1"/><circle cx="273.8" cy="347.0" r="2.1"/><circle cx="274.7" cy="347.0" r="2.1"/><circle cx="275.7" cy="347.0" r="2.1"/><circle cx="276.7" cy="347.0" r="2.1"/><circle cx="277.6" cy="347.0" r="2.1"/><circle cx="278.6" cy="347.0" r="2.1"/><circle cx="279.6" cy="347.0" r="2.1"/><circle cx="280.5" cy="347.0" r="2.1"/><circle cx="281.5" cy="347.0" r="2.1"/><circle cx="282.4" cy="347.0" r="2.1"/><circle cx="283.4" cy="347.0" r="2.1"/><circle cx="284.4" cy="347.0" r="2.1"/><circle cx="285.3" cy="347.0" r="2.1"/><circle cx="286.3" cy="347.0" r="2.1"/><circle cx="287.3" cy="347.0" r="2.1"/><circle cx="288.2" cy="347.0" r="2.1"/><circle cx="289.2" cy="347.1" r="2.1"/><circle cx="290.2" cy="347.1" r="2.1"/><circle cx="291.1" cy="347.1" r="2.1"/><circle cx="292.1" cy="347.1" r="2.1"/><circle cx="293.1" cy="347.1" r="2.1"/><circle cx="294.0" cy="347.1" r="2.1"/><circle cx="295.0" cy="347.1" r="2.1"/><circle cx="296.0" cy="347.1" r="2.1"/><circle cx="296.9" cy="347.1" r="2.1"/><circle cx="297.9" cy="347.1" r="2.1"/><circle cx="298.9" cy="347.1" r="2.1"/><circle cx="299.8" cy="347.1" r="2.1"/><circle cx="300.8" cy="347.1" r="2.1"/><circle cx="301.8" cy="347.1" r="2.1"/><circle cx="302.7" cy="347.1" r="2.1"/><circle cx="303.7" cy="347.1" r="2.1"/><circle cx="304.6" cy="347.1" r="2.1"/><circle cx="305.6" cy="347.1" r="2.1"/><circle cx="306.6" cy="347.1" r="2.1"/><circle cx="307.5" cy="347.1" r="2.1"/><circle cx="308.5" cy="347.1" r="2.1"/><circle cx="309.5" cy="347.1" r="2.1"/><circle cx="310.4" cy="347.1" r="2.1"/><circle cx="311.4" cy="347.1" r="2.1"/><circle cx="312.4" cy="347.1" r="2.1"/><circle cx="313.3" cy="347.1" r="2.1"/><circle cx="314.3" cy="347.1" r="2.1"/><circle cx="315.3" cy="347.1" r="2.1"/><circle cx="316.2" cy="347.1" r="2.1"/><circle cx="317.2" cy="347.1" r="2.1"/><circle cx="318.2" cy="347.1" r="2.1"/><circle cx="319.1" cy="347.1" r="2.1"/><circle cx="320.1" cy="347.1" r="2.1"/><circle cx="321.0" cy="347.1" r="2.1"/><circle cx="322.0" cy="347.1" r="2.1"/><circle cx="323.0" cy="347.1" r="2.1"/><circle cx="323.9" cy="347.1" r="2.1"/><circle cx="324.9" cy="347.1" r="2.1"/><circle cx="325.9" cy="347.1" r="2.1"/><circle cx="326.8" cy="347.1" r="2.1"/><circle cx="327.8" cy="347.1" r="2.1"/><circle cx="328.8" cy="347.1" r="2.1"/><circle cx="329.7" cy="347.1" r="2.1"/><circle cx="330.7" cy="347.1" r="2.1"/></g></g><path d="M45.1 364.9V0.5" fill="none" stroke="#585858" stroke-width="1.25"/><path d="M330.6 0.5V364.9" fill="none" stroke="#5c5c5c" stroke-width="1.15"/><path d="M44.5 0.5H331.20000000000005M44.5 182.5H331.20000000000005M44.5 364.9H331.20000000000005" fill="none" stroke="#111" stroke-width="1.1"/><path d="M45.1 171.3h-6.8M45.1 148.4h-6.8M45.1 125.6h-6.8M45.1 102.7h-6.8M45.1 79.9h-6.8M45.1 57.0h-6.8M45.1 34.1h-6.8M45.1 11.3h-6.8M45.1 347.0h-6.8M45.1 324.2h-3.6M45.1 301.4h-6.8M45.1 278.6h-3.6M45.1 255.8h-6.8M45.1 233.0h-3.6M45.1 210.2h-6.8M45.1 187.4h-3.6M65.3 182.5v3.2M65.3 364.9v3M89.5 182.5v6M89.5 364.9v5.5M113.6 182.5v3.2M113.6 364.9v3M137.7 182.5v6M137.7 364.9v5.5M161.8 182.5v3.2M161.8 364.9v3M185.9 182.5v6M185.9 364.9v5.5M210.1 182.5v3.2M210.1 364.9v3M234.2 182.5v6M234.2 364.9v5.5M258.3 182.5v3.2M258.3 364.9v3M282.4 182.5v6M282.4 364.9v5.5M306.6 182.5v3.2M306.6 364.9v3M330.7 182.5v6M330.7 364.9v5.5" fill="none" stroke="#111" stroke-width="1"/><g font-family="Liberation Serif, serif" fill="#000" stroke="#000" stroke-width="0.12" opacity="0.995"><text x="34.2" y="176.3" text-anchor="end" font-size="15">0</text><text x="34.2" y="153.4" text-anchor="end" font-size="15">1</text><text x="34.2" y="130.6" text-anchor="end" font-size="15">2</text><text x="34.2" y="107.7" text-anchor="end" font-size="15">3</text><text x="34.2" y="84.9" text-anchor="end" font-size="15">4</text><text x="34.2" y="62.0" text-anchor="end" font-size="15">5</text><text x="34.2" y="39.1" text-anchor="end" font-size="15">6</text><text x="34.2" y="16.3" text-anchor="end" font-size="15">7</text><text x="34.2" y="352.0" text-anchor="end" font-size="15">0</text><text x="34.2" y="306.4" text-anchor="end" font-size="15">1</text><text x="34.2" y="260.8" text-anchor="end" font-size="15">2</text><text x="34.2" y="215.2" text-anchor="end" font-size="15">3</text><text x="89.5" y="388" text-anchor="middle" font-size="15">50</text><text x="137.7" y="388" text-anchor="middle" font-size="15">100</text><text x="185.9" y="388" text-anchor="middle" font-size="15">150</text><text x="234.2" y="388" text-anchor="middle" font-size="15">200</text><text x="282.4" y="388" text-anchor="middle" font-size="15">250</text><text x="330.7" y="388" text-anchor="middle" font-size="15">300</text><text x="186.6" y="405" text-anchor="middle" font-size="18">T (K)</text><text transform="translate(15.6 152.3) rotate(-90)" font-size="14.8" font-family="DejaVu Serif, serif">χ</text><text transform="translate(15.6 142.6) rotate(-90)" font-size="17.3">′ (emu mol<tspan font-size="10.5" dy="-8">−1</tspan><tspan dy="8">Oe</tspan><tspan font-size="10.5" dy="-8">−1</tspan><tspan dy="8">)</tspan></text><text transform="translate(19.3 355.3) rotate(-90)" font-size="14.8" font-family="DejaVu Serif, serif">χ</text><text transform="translate(19.3 345.6) rotate(-90)" font-size="17.3">″ (10<tspan font-size="10.5" dy="-8">−1</tspan><tspan dy="8"> emu mol</tspan><tspan font-size="10.5" dy="-8">−1</tspan><tspan dy="8">Oe</tspan><tspan font-size="10.5" dy="-8">−1</tspan><tspan dy="8">)</tspan></text><text x="245" y="15.6" font-size="11.3"><tspan font-style="italic">h</tspan><tspan font-size="7" dy="3" font-style="italic">ac</tspan><tspan dy="-3"> = 4 Oe</tspan></text><text x="245" y="32.2" font-size="11.3"><tspan font-style="italic">H</tspan> = 0 Oe</text><text x="245" y="47" font-size="11.3"><tspan font-style="italic">f</tspan> = 17.13 Hz</text><text x="319.2" y="16.6" text-anchor="middle" font-size="14">(a)</text><text x="319.6" y="201.2" text-anchor="middle" font-size="14">(b)</text><text x="90.1" y="201.3" text-anchor="middle" font-size="11.5">47 K</text><text x="48.4" y="311.8" font-size="11.5">9 K</text><text x="90.8" y="327.2" font-size="11.5">63 K</text><text x="118.6" y="293.7" font-size="11.5">80 K</text></g><path d="M52.1 315V326M123.6 298V306M102 315.5V303" stroke="#000" stroke-width="0.9" fill="none"/><path d="M48.8 324.2h6.6l-3.3 7zM120.3 304.6h6.6l-3.3 7zM98.7 304h6.6l-3.3-7z" fill="#000"/></svg></body></html>
